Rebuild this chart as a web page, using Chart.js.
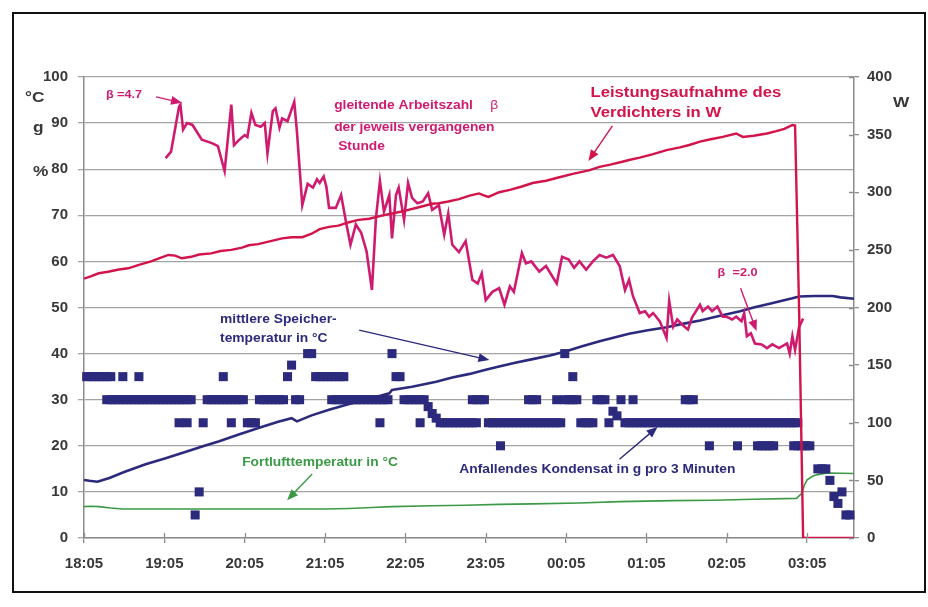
<!DOCTYPE html>
<html lang="de">
<head>
<meta charset="utf-8">
<title>Wärmepumpe – Nachtmessung</title>
<script src="https://cdn.jsdelivr.net/npm/chart.js@4.4.0/dist/chart.umd.min.js"></script>
<style>
  html, body { margin: 0; padding: 0; background: #ffffff; }
  canvas { display: block; }
</style>
</head>
<body>
<canvas id="chart" width="928" height="607"></canvas>
<script>
// Hour ticks of the time axis (x values are minutes after 18:05)
const timeLabels = ['18:05', '19:05', '20:05', '21:05', '22:05', '23:05', '00:05', '01:05', '02:05', '03:05'];

// Leistungsaufnahme des Verdichters in W (right axis)
const powerMin = [0, 5, 11, 18, 26, 33, 41, 50, 57, 63, 68, 73, 80, 86, 95, 102, 110, 118, 123, 130,
  137, 148, 155, 163, 170, 176, 183, 190, 198, 205, 213, 223, 232, 240, 250, 260, 265, 272, 280, 288,
  295, 298, 302, 310, 318, 327, 335, 345, 355, 365, 377, 385, 393, 402, 407, 415, 425, 435, 445, 452,
  460, 468, 477, 487, 492, 500, 510, 517, 523, 529, 531, 534, 537, 575];
const powerW = [225, 227, 229.7, 231, 233, 234, 237, 240, 243, 245.6, 245, 242.7, 244, 246, 247, 249, 250, 252, 254, 255,
  257, 260, 261, 261, 264, 268, 270, 271, 274, 276, 277, 280, 282, 284, 287, 290, 290.5, 292, 294, 297,
  299, 297.5, 296, 300, 302, 305, 308, 310, 313, 316, 319, 322, 324, 326.5, 328, 330, 333, 336.6, 339, 341,
  344, 346, 348, 351, 348, 349, 351, 353, 355, 358.4, 358, 198, 0, 0];

// gleitende Arbeitszahl beta der jeweils vergangenen Stunde
const betaMin = [61, 65, 71, 72, 74, 77, 81, 88, 96, 100, 105, 110, 112, 116, 120, 122, 125, 128, 132, 135,
  137, 141, 143, 146, 148, 152, 157, 159, 163, 167, 171, 174, 176, 179, 181, 183, 188, 192, 196, 199,
  203, 207, 211, 215, 218, 221, 224, 228, 230, 233, 235, 239, 242, 245, 249, 253, 257, 260, 265, 269,
  272, 275, 280, 285, 290, 294, 297, 300, 305, 310, 314, 318, 321, 327, 330, 334, 340, 345, 353, 357,
  362, 366, 370, 375, 380, 385, 390, 395, 400, 404, 407, 410, 415, 419, 422, 425, 430, 435, 437, 440,
  443, 447, 451, 454, 460, 462, 466, 469, 473, 477, 480, 484, 487, 491, 493, 495, 498, 501, 506, 510,
  514, 519, 525, 527, 529, 531, 534, 537];
const betaValue = [4.12, 4.19, 4.68, 4.70, 4.43, 4.50, 4.48, 4.32, 4.28, 4.25, 3.98, 4.70, 4.26, 4.32, 4.37, 4.35, 4.61, 4.48, 4.46, 4.50,
  4.17, 4.63, 4.66, 4.45, 4.55, 4.52, 4.73, 4.41, 3.61, 3.84, 3.80, 3.89, 3.85, 3.92, 3.81, 3.58, 3.58, 3.72, 3.40, 3.18,
  3.40, 3.31, 3.11, 2.69, 3.47, 3.87, 3.54, 3.72, 3.25, 3.72, 3.80, 3.45, 3.85, 3.69, 3.63, 3.65, 3.74, 3.56, 3.61, 3.29,
  3.52, 3.18, 3.10, 3.22, 2.80, 2.76, 2.87, 2.58, 2.67, 2.71, 2.53, 2.73, 2.67, 3.09, 2.98, 3.00, 2.89, 2.95, 2.76, 3.05,
  3.02, 2.93, 3.00, 2.91, 3.00, 3.07, 3.04, 3.07, 2.95, 2.69, 2.80, 2.62, 2.44, 2.46, 2.40, 2.44, 2.35, 2.17, 2.57, 2.29,
  2.37, 2.31, 2.26, 2.39, 2.53, 2.46, 2.51, 2.46, 2.51, 2.40, 2.40, 2.37, 2.40, 2.35, 2.44, 2.19, 2.22, 2.11, 2.10, 2.06,
  2.10, 2.06, 2.11, 2.00, 2.19, 2.04, 2.29, 2.38];

// mittlere Speichertemperatur in °C
const speicherMin = [0, 4, 10, 19, 30, 46, 61, 75, 90, 101, 115, 132, 145, 155, 159, 170, 183, 196, 210, 222,
  228, 230, 245, 263, 275, 288, 300, 310, 322, 335, 348, 360, 372, 385, 396, 407, 420, 435, 448, 460,
  475, 490, 500, 512, 522, 529, 534, 545, 559, 565, 575];
const speicherC = [12.6, 12.4, 12.2, 13.0, 14.3, 16.0, 17.3, 18.6, 20.0, 21.0, 22.4, 24.0, 25.2, 26.0, 25.3, 26.6, 27.8, 28.9, 30.0, 30.9,
  31.4, 32.1, 32.8, 33.9, 34.8, 35.6, 36.5, 37.2, 38.0, 38.8, 39.6, 40.5, 41.6, 42.7, 43.5, 44.3, 45.0, 45.7, 46.5, 47.2,
  48.2, 49.2, 50.0, 50.8, 51.5, 52.0, 52.4, 52.5, 52.5, 52.2, 51.9];

// Fortlufttemperatur in °C
const fortluftMin = [0, 5, 11, 20, 29, 60, 120, 180, 198, 215, 230, 260, 285, 310, 335, 370, 400, 440, 470, 500,
  532, 536, 538, 540, 544, 547, 555, 575];
const fortluftC = [6.8, 6.9, 6.8, 6.5, 6.3, 6.3, 6.3, 6.3, 6.4, 6.6, 6.8, 7.0, 7.1, 7.3, 7.4, 7.6, 7.9, 8.1, 8.2, 8.4,
  8.6, 9.7, 11.5, 12.6, 13.4, 13.7, 14.1, 14.0];

// Anfallendes Kondensat in g pro 3 Minuten, one reading per 3-minute interval from 18:07
const kondensatStartMin = 2;
const kondensatStepMin = 3;
const kondensatG = [
  35, 35, 35, 35, 35, 35, 35, 30, 30, 35, 30, 30, 30, 35, 30, 30, 30, 30, 30, 30,
  30, 30, 30, 30, 30, 30, 30, 5, 10, 25, 30, 30, 30, 30, 35, 30, 30, 30, 30, 30,
  25, 25, 25, 30, 30, 30, 30, 30, 30, 30, 35, 37.5, 30, 30, null, 40, 40, 35, 35, 35,
  35, 35, 35, 35, 35, 30, 30, 30, 30, 30, 30, 30, 30, 30, 30, 30, 40, 35, 35, 30,
  30, 30, 30, 30, 30, 28.5, 27, 26, 25, 25, 25, 25, 25, 25, 25, 25, 30, 30, 30, 30,
  25, 25, 25, 25, 25, 25, 25, 25, 25, 25, 30, 30, 30, 25, 25, 25, 25, 30, 25, 40,
  30, 35, 30, 25, 25, 25, 25, 30, 30, 30, 25, 27.5, 26.5, 30, 25, 25, 30, 25, 25, 25,
  25, 25, 25, 25, 25, 25, 25, 25, 25, 30, 30, 30, 25, 25, 25, 25, 25, 25, 25, 25,
  25, 25, 25, 25, 25, 25, 25, 25, 25, 25, 25, 25, 25, 25, 25, 25, 25, 25, 20, 20,
  20, null, 15, 15, 15, 12.5, 9, 7.5, 10, 5, 5];
// second readings logged within the same interval
const kondensatExtraMin = [17, 20, 29, 41, 71, 77, 104, 110, 185, 188, 191, 194, 221, 251, 290, 293, 311, 332, 335, 338,
  353, 359, 365, 410, 449, 452, 455, 467, 488, 503, 506, 509, 512, 515, 530, 533];
const kondensatExtraG = [30, 30, 30, 30, 25, 25, 30, 25, 30, 30, 30, 30, 25, 25, 25, 25, 20, 25, 25, 25,
  25, 30, 30, 25, 25, 25, 25, 20, 20, 20, 20, 20, 20, 20, 20, 20];

const COLORS = {
  power: '#d2144a',
  beta: '#cf1b6f',
  navy: '#2c2a7c',
  green: '#3b9a45',
  axisText: '#383838',
  grid: '#a4a4a4',
  axis: '#8c8c8c'
};
const FONT = '"Liberation Sans", Arial, Helvetica, sans-serif';

const pairs = (xs, ys) => xs.map((x, i) => ({ x: x, y: ys[i] }));

const kondensatPoints = kondensatG
  .map((g, i) => ({ x: kondensatStartMin + i * kondensatStepMin, y: g }))
  .filter(p => p.y !== null)
  .concat(pairs(kondensatExtraMin, kondensatExtraG));

// Text and arrow callouts, positioned in chart units (minutes, left-axis value)
const callouts = [
  { text: 'β', t: 16.4, v: 96.1, size: 11, color: COLORS.beta },
  { text: '=4.7', t: 24.7, v: 96.1, size: 11, color: COLORS.beta },
  { text: 'gleitende Arbeitszahl', t: 186.8, v: 93.7, size: 12, color: COLORS.beta },
  { text: 'β', t: 303.4, v: 93.7, size: 12, color: COLORS.beta, weight: 'normal' },
  { text: 'der jeweils vergangenen', t: 186.8, v: 88.9, size: 12, color: COLORS.beta },
  { text: 'Stunde', t: 189.8, v: 84.8, size: 12, color: COLORS.beta },
  { text: 'Leistungsaufnahme des', t: 378.2, v: 96.5, size: 14.5, color: COLORS.power },
  { text: 'Verdichters in W', t: 378.2, v: 92.2, size: 14.5, color: COLORS.power },
  { text: 'β', t: 473.1, v: 57.5, size: 11, color: COLORS.beta },
  { text: '=2.0', t: 484.3, v: 57.5, size: 11, color: COLORS.beta },
  { text: 'mittlere Speicher-', t: 101.6, v: 47.3, size: 12, color: COLORS.navy },
  { text: 'temperatur in °C', t: 101.6, v: 43.2, size: 12, color: COLORS.navy },
  { text: 'Fortlufttemperatur in °C', t: 118.1, v: 16.3, size: 12, color: COLORS.green },
  { text: 'Anfallendes Kondensat in g pro 3 Minuten', t: 280.3, v: 14.75, size: 12, color: COLORS.navy }
];
const arrows = [
  { from: [53.8, 95.7], to: [73.2, 94.4], color: COLORS.beta },
  { from: [394.6, 89.4], to: [376.7, 81.8], color: COLORS.power },
  { from: [490.3, 54.2], to: [502.2, 44.9], color: COLORS.beta },
  { from: [205.5, 45.1], to: [302.7, 38.6], color: COLORS.navy },
  { from: [170.4, 13.9], to: [151.7, 8.2], color: COLORS.green },
  { from: [399.9, 17.1], to: [428.3, 24.1], color: COLORS.navy }
];

function drawText(ctx, str, x, y, size, color, weight) {
  ctx.save();
  ctx.font = (weight || 'bold') + ' ' + size + 'px ' + FONT;
  ctx.fillStyle = color;
  ctx.textBaseline = 'middle';
  ctx.textAlign = 'left';
  ctx.translate(x, y);
  ctx.scale(1.15, 1);
  ctx.fillText(str, 0, 0);
  ctx.restore();
}

function drawArrow(ctx, x1, y1, x2, y2, color) {
  const ang = Math.atan2(y2 - y1, x2 - x1);
  const len = 11, half = 4.5;
  ctx.save();
  ctx.strokeStyle = color;
  ctx.fillStyle = color;
  ctx.lineWidth = 1.4;
  ctx.beginPath();
  ctx.moveTo(x1, y1);
  ctx.lineTo(x2 - Math.cos(ang) * len * 0.8, y2 - Math.sin(ang) * len * 0.8);
  ctx.stroke();
  ctx.beginPath();
  ctx.moveTo(x2, y2);
  ctx.lineTo(x2 - Math.cos(ang) * len - Math.sin(ang) * half, y2 - Math.sin(ang) * len + Math.cos(ang) * half);
  ctx.lineTo(x2 - Math.cos(ang) * len + Math.sin(ang) * half, y2 - Math.sin(ang) * len - Math.cos(ang) * half);
  ctx.closePath();
  ctx.fill();
  ctx.restore();
}

const decorations = {
  id: 'decorations',
  beforeDraw(chart) {
    const ctx = chart.ctx;
    ctx.save();
    ctx.fillStyle = '#ffffff';
    ctx.fillRect(0, 0, chart.width, chart.height);
    ctx.restore();
  },
  afterDraw(chart) {
    const ctx = chart.ctx;
    const area = chart.chartArea;
    const xs = chart.scales.x, ys = chart.scales.y, yr = chart.scales.y2;

    // inner halves of the crossing tick marks
    ctx.save();
    ctx.strokeStyle = COLORS.axis;
    ctx.lineWidth = 1.3;
    ctx.beginPath();
    xs.ticks.forEach(tk => {
      const px = Math.round(xs.getPixelForValue(tk.value)) + 0.5;
      ctx.moveTo(px, area.bottom - 5);
      ctx.lineTo(px, area.bottom);
    });
    yr.ticks.forEach(tk => {
      const py = Math.round(yr.getPixelForValue(tk.value)) + 0.5;
      ctx.moveTo(area.right - 5, py);
      ctx.lineTo(area.right, py);
    });
    ctx.stroke();
    ctx.restore();

    // unit labels beside the axes
    drawText(ctx, '°C', 25, 98, 15, COLORS.axisText);
    drawText(ctx, 'g', 33, 128, 15, COLORS.axisText);
    drawText(ctx, '%', 33, 172, 15, COLORS.axisText);
    drawText(ctx, 'W', 893, 103, 15, COLORS.axisText);

    // callouts
    callouts.forEach(c => {
      drawText(ctx, c.text, xs.getPixelForValue(c.t), ys.getPixelForValue(c.v), c.size, c.color, c.weight);
    });
    arrows.forEach(a => {
      drawArrow(ctx,
        xs.getPixelForValue(a.from[0]), ys.getPixelForValue(a.from[1]),
        xs.getPixelForValue(a.to[0]), ys.getPixelForValue(a.to[1]), a.color);
    });

    // outer frame
    ctx.save();
    ctx.strokeStyle = '#111111';
    ctx.lineWidth = 2;
    ctx.strokeRect(13, 13, 912, 579);
    ctx.restore();
  }
};

const tickFont = { family: FONT, size: 15, weight: 'bold' };

new Chart(document.getElementById('chart'), {
  type: 'line',
  data: {
    datasets: [
      {
        label: 'Leistungsaufnahme des Verdichters in W',
        data: pairs(powerMin, powerW),
        yAxisID: 'y2',
        borderColor: COLORS.power,
        borderWidth: 2.4,
        pointRadius: 0,
        order: 0
      },
      {
        label: 'gleitende Arbeitszahl β',
        data: pairs(betaMin, betaValue),
        yAxisID: 'yBeta',
        borderColor: COLORS.beta,
        borderWidth: 2.6,
        pointRadius: 0,
        order: 1
      },
      {
        label: 'mittlere Speichertemperatur in °C',
        data: pairs(speicherMin, speicherC),
        yAxisID: 'y',
        borderColor: COLORS.navy,
        borderWidth: 2.6,
        pointRadius: 0,
        order: 2
      },
      {
        label: 'Anfallendes Kondensat in g pro 3 Minuten',
        data: kondensatPoints,
        yAxisID: 'y',
        showLine: false,
        pointStyle: 'rect',
        pointRadius: 6.4,
        pointHoverRadius: 6.4,
        pointBorderWidth: 0,
        backgroundColor: COLORS.navy,
        borderColor: COLORS.navy,
        clip: { left: 6, right: 6, top: 0, bottom: 0 },
        order: 3
      },
      {
        label: 'Fortlufttemperatur in °C',
        data: pairs(fortluftMin, fortluftC),
        yAxisID: 'y',
        borderColor: COLORS.green,
        borderWidth: 1.6,
        pointRadius: 0,
        order: 4
      }
    ]
  },
  options: {
    responsive: false,
    animation: false,
    events: [],
    layout: { padding: { top: 77, left: 0, right: 0, bottom: 0 } },
    elements: { line: { tension: 0 } },
    plugins: {
      legend: { display: false },
      tooltip: { enabled: false }
    },
    scales: {
      x: {
        type: 'linear',
        position: 'bottom',
        min: 0,
        max: 575,
        afterBuildTicks: s => { s.ticks = timeLabels.map((_, i) => ({ value: i * 60 })); },
        afterFit: s => { s.height = 69; },
        ticks: {
          callback: (v, i) => timeLabels[i],
          font: tickFont,
          color: COLORS.axisText,
          padding: 12,
          maxRotation: 0,
          autoSkip: false
        },
        grid: { drawOnChartArea: false, drawTicks: true, tickLength: 5, color: COLORS.axis, lineWidth: 1.3 },
        border: { color: COLORS.axis, width: 1.5 }
      },
      y: {
        position: 'left',
        min: 0,
        max: 100,
        afterFit: s => { s.width = 84; },
        ticks: { stepSize: 10, font: tickFont, color: COLORS.axisText, padding: 10 },
        grid: { color: COLORS.grid, lineWidth: 1.3, tickLength: 6 },
        border: { color: COLORS.axis, width: 1.5 }
      },
      y2: {
        position: 'right',
        min: 0,
        max: 400,
        afterFit: s => { s.width = 74; },
        ticks: { stepSize: 50, font: tickFont, color: COLORS.axisText, padding: 8 },
        grid: { drawOnChartArea: false, drawTicks: true, tickLength: 5, color: COLORS.axis, lineWidth: 1.3 },
        border: { color: COLORS.axis, width: 1.5 }
      },
      yBeta: {
        display: false,
        min: 0,
        max: 5
      }
    }
  },
  plugins: [decorations]
});
</script>
</body>
</html>
